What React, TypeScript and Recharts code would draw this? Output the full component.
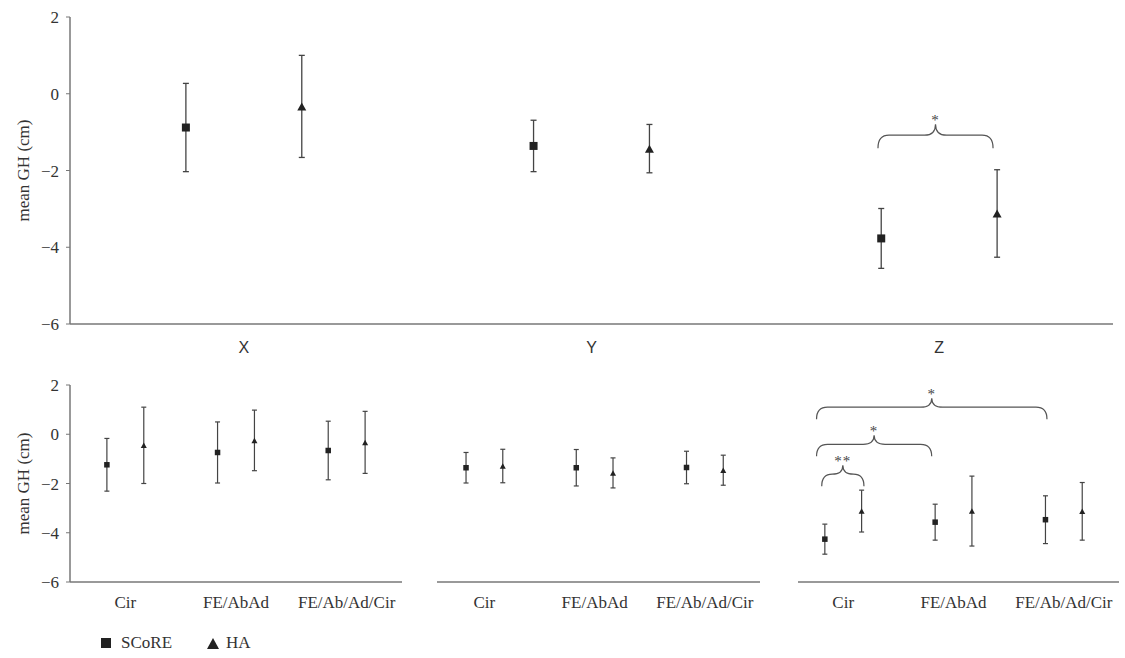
import { ScatterChart, Scatter, XAxis, YAxis, ErrorBar, ReferenceLine, Legend, Label } from 'recharts';

// top panel: overall mean GH per direction
const directions = ['X', 'Y', 'Z'];
const dirScoreMean = [-0.88, -1.36, -3.77];
const dirScoreSd = [1.15, 0.67, 0.78];
const dirHaMean = [-0.33, -1.43, -3.12];
const dirHaSd = [1.33, 0.63, 1.14];

// bottom panels: per motion type, one panel per direction
const motions = ['Cir', 'FE/AbAd', 'FE/Ab/Ad/Cir'];
const xScoreMean = [-1.24, -0.74, -0.66];
const xScoreSd = [1.07, 1.24, 1.19];
const xHaMean = [-0.45, -0.25, -0.33];
const xHaSd = [1.55, 1.23, 1.26];
const yScoreMean = [-1.36, -1.36, -1.35];
const yScoreSd = [0.62, 0.74, 0.66];
const yHaMean = [-1.29, -1.57, -1.46];
const yHaSd = [0.68, 0.61, 0.61];
const zScoreMean = [-4.26, -3.57, -3.47];
const zScoreSd = [0.61, 0.73, 0.97];
const zHaMean = [-3.12, -3.12, -3.13];
const zHaSd = [0.85, 1.42, 1.17];

const yTicks = [-6, -4, -2, 0, 2];
const seriesOrder = ['SCoRE', 'HA'];

// significance braces: [from, to, level, label]
const topBraces: Array<[number, number, number, string]> = [[2.324, 2.655, -1.08, '*']];
const zBraces: Array<[number, number, number, string]> = [
  [0.258, 2.347, 1.1, '*'],
  [0.258, 1.302, -0.41, '*'],
  [0.305, 0.688, -1.62, '**'],
];

const SERIF = "'Liberation Serif', 'Times New Roman', serif";
const SANS = "'Liberation Sans', Arial, sans-serif";
const INK = '#222';
const AXIS = '#777';

const OFFSET = 1 / 6;

const toPoints = (means: number[], sds: number[], shift: number) =>
  means.map((m, i) => ({ x: i + 0.5 + shift, y: m, err: sds[i] }));

const fmtY = (v: number) => (v < 0 ? `\u2212${-v}` : `${v}`);

const serifTick = { fill: '#333', fontSize: 17, fontFamily: SERIF, style: { fontFamily: SERIF } };

const squareShape = (size: number) => (p: any) => (
  <rect x={p.cx - size / 2} y={p.cy - size / 2} width={size} height={size} fill={INK} />
);

const triangleShape = (w: number, h: number) => (p: any) => (
  <path
    d={`M${p.cx},${p.cy - h / 2}L${p.cx + w / 2},${p.cy + h / 2}L${p.cx - w / 2},${p.cy + h / 2}Z`}
    fill={INK}
  />
);

const braceShape = (label: string, depth: number, tip: number) => (p: any) => {
  const x1 = Number(p.x1);
  const x2 = Number(p.x2);
  const y = Number(p.y1);
  const xm = (x1 + x2) / 2;
  const r = Math.min(11, (x2 - x1) / 4);
  const d =
    `M${x1},${y + depth}Q${x1},${y} ${x1 + r},${y}L${xm - r},${y}` +
    `Q${xm},${y} ${xm},${y - tip}Q${xm},${y} ${xm + r},${y}` +
    `L${x2 - r},${y}Q${x2},${y} ${x2},${y + depth}`;
  return (
    <g>
      <path d={d} fill="none" stroke="#555" strokeWidth={1.2} />
      <text
        x={xm}
        y={y - tip + 1}
        textAnchor="middle"
        fontSize={15}
        fill="#444"
        letterSpacing={1}
        style={{ fontFamily: SERIF }}
      >
        {label}
      </text>
    </g>
  );
};

const renderLegend = (props: any) => {
  const items = [...(props.payload || [])].sort(
    (a: any, b: any) => seriesOrder.indexOf(a.value) - seriesOrder.indexOf(b.value)
  );
  return (
    <div style={{ display: 'flex', alignItems: 'center', fontFamily: SERIF, fontSize: 17, color: '#333', height: 24 }}>
      {items.map((entry: any) => (
        <span key={entry.value} style={{ display: 'inline-flex', alignItems: 'center', marginRight: 35 }}>
          {entry.type === 'square' ? (
            <svg width={10} height={10}>
              <rect x={0} y={0} width={10} height={10} fill={INK} />
            </svg>
          ) : (
            <svg width={12} height={11}>
              <path d="M6,0L12,11L0,11Z" fill={INK} />
            </svg>
          )}
          <span style={{ marginLeft: entry.type === 'square' ? 10 : 7 }}>{entry.value}</span>
        </span>
      ))}
    </div>
  );
};

const yLabel = (
  <Label
    value="mean GH (cm)"
    angle={-90}
    position="insideLeft"
    offset={23}
    style={{ textAnchor: 'middle', fill: '#333', fontSize: 17, fontFamily: SERIF }}
  />
);

const yAxisProps = {
  type: 'number' as const,
  dataKey: 'y',
  domain: [-6, 2],
  ticks: yTicks,
  tickFormatter: fmtY,
  tick: serifTick,
  axisLine: { stroke: AXIS, strokeWidth: 1.5 },
  tickLine: { stroke: AXIS },
  tickSize: 4,
  tickMargin: 7,
  width: 70,
};

type PanelProps = {
  left: number;
  scoreMean: number[];
  scoreSd: number[];
  haMean: number[];
  haSd: number[];
  domainStart: number;
  plotWidth: number;
  showY?: boolean;
  showLegend?: boolean;
  braces?: Array<[number, number, number, string]>;
};

const MotionPanel = ({
  left,
  scoreMean,
  scoreSd,
  haMean,
  haSd,
  domainStart,
  plotWidth,
  showY,
  showLegend,
  braces = [],
}: PanelProps) => {
  const marginLeft = showY ? 0 : 10;
  const width = marginLeft + (showY ? 70 : 0) + plotWidth + 4;
  return (
    <div style={{ position: 'absolute', left, top: 360 }}>
      <ScatterChart width={width} height={298} margin={{ top: 25, right: 4, bottom: 46, left: marginLeft }}>
        <XAxis
          type="number"
          dataKey="x"
          domain={[domainStart, 3]}
          ticks={[0.5, 1.5, 2.5]}
          tickFormatter={(v: number) => motions[Math.floor(v)]}
          tick={serifTick}
          axisLine={{ stroke: AXIS, strokeWidth: 1.5 }}
          tickLine={false}
          tickSize={0}
          tickMargin={14}
          height={30}
        />
        {showY ? (
          <YAxis {...yAxisProps}>{yLabel}</YAxis>
        ) : (
          <YAxis type="number" dataKey="y" domain={[-6, 2]} hide />
        )}
        {braces.map(([a, b, lvl, txt], i) => (
          <ReferenceLine
            key={i}
            segment={[{ x: a, y: lvl }, { x: b, y: lvl }]}
            shape={braceShape(txt, 12, 9)}
          />
        ))}
        <Scatter
          name="SCoRE"
          legendType="square"
          data={toPoints(scoreMean, scoreSd, -OFFSET)}
          shape={squareShape(5.5)}
          isAnimationActive={false}
        >
          <ErrorBar dataKey="err" direction="y" width={2.5} stroke="#444" strokeWidth={1.2} />
        </Scatter>
        <Scatter
          name="HA"
          legendType="triangle"
          data={toPoints(haMean, haSd, OFFSET)}
          shape={triangleShape(6, 5.5)}
          isAnimationActive={false}
        >
          <ErrorBar dataKey="err" direction="y" width={2.5} stroke="#444" strokeWidth={1.2} />
        </Scatter>
        {showLegend && (
          <Legend
            layout="horizontal"
            verticalAlign="middle"
            align="center"
            content={renderLegend}
            wrapperStyle={{ left: 101, top: 271, width: 260, height: 24 }}
          />
        )}
      </ScatterChart>
    </div>
  );
};

export default function App() {
  return (
    <div
      style={{
        position: 'absolute',
        left: 0,
        top: 0,
        width: 1125,
        height: 658,
        background: '#fff',
        overflow: 'hidden',
        fontFamily: SERIF,
      }}
    >
      <div style={{ position: 'absolute', left: 0, top: 0 }}>
        <ScatterChart width={1125} height={370} margin={{ top: 17, right: 12, bottom: 16, left: 0 }}>
          <XAxis
            type="number"
            dataKey="x"
            domain={[0, 3]}
            ticks={[0.5, 1.5, 2.5]}
            tickFormatter={(v: number) => directions[Math.floor(v)]}
            tick={{ fill: '#333', fontSize: 16, fontFamily: SANS, style: { fontFamily: SANS } }}
            axisLine={{ stroke: AXIS, strokeWidth: 1.5 }}
            tickLine={false}
            tickSize={0}
            tickMargin={18}
            height={30}
          />
          <YAxis {...yAxisProps}>{yLabel}</YAxis>
          {topBraces.map(([a, b, lvl, txt], i) => (
            <ReferenceLine
              key={i}
              segment={[{ x: a, y: lvl }, { x: b, y: lvl }]}
              shape={braceShape(txt, 13, 11)}
            />
          ))}
          <Scatter
            name="SCoRE"
            data={toPoints(dirScoreMean, dirScoreSd, -OFFSET)}
            shape={squareShape(8)}
            isAnimationActive={false}
          >
            <ErrorBar dataKey="err" direction="y" width={3} stroke="#444" strokeWidth={1.3} />
          </Scatter>
          <Scatter
            name="HA"
            data={toPoints(dirHaMean, dirHaSd, OFFSET)}
            shape={triangleShape(9, 8)}
            isAnimationActive={false}
          >
            <ErrorBar dataKey="err" direction="y" width={3} stroke="#444" strokeWidth={1.3} />
          </Scatter>
        </ScatterChart>
      </div>
      <MotionPanel
        left={0}
        scoreMean={xScoreMean}
        scoreSd={xScoreSd}
        haMean={xHaMean}
        haSd={xHaSd}
        domainStart={0}
        plotWidth={332}
        showY
        showLegend
      />
      <MotionPanel
        left={427}
        scoreMean={yScoreMean}
        scoreSd={yScoreSd}
        haMean={yHaMean}
        haSd={yHaSd}
        domainStart={0.07}
        plotWidth={323}
      />
      <MotionPanel
        left={788}
        scoreMean={zScoreMean}
        scoreSd={zScoreSd}
        haMean={zHaMean}
        haSd={zHaSd}
        domainStart={0.09}
        plotWidth={321}
        braces={zBraces}
      />
    </div>
  );
}
